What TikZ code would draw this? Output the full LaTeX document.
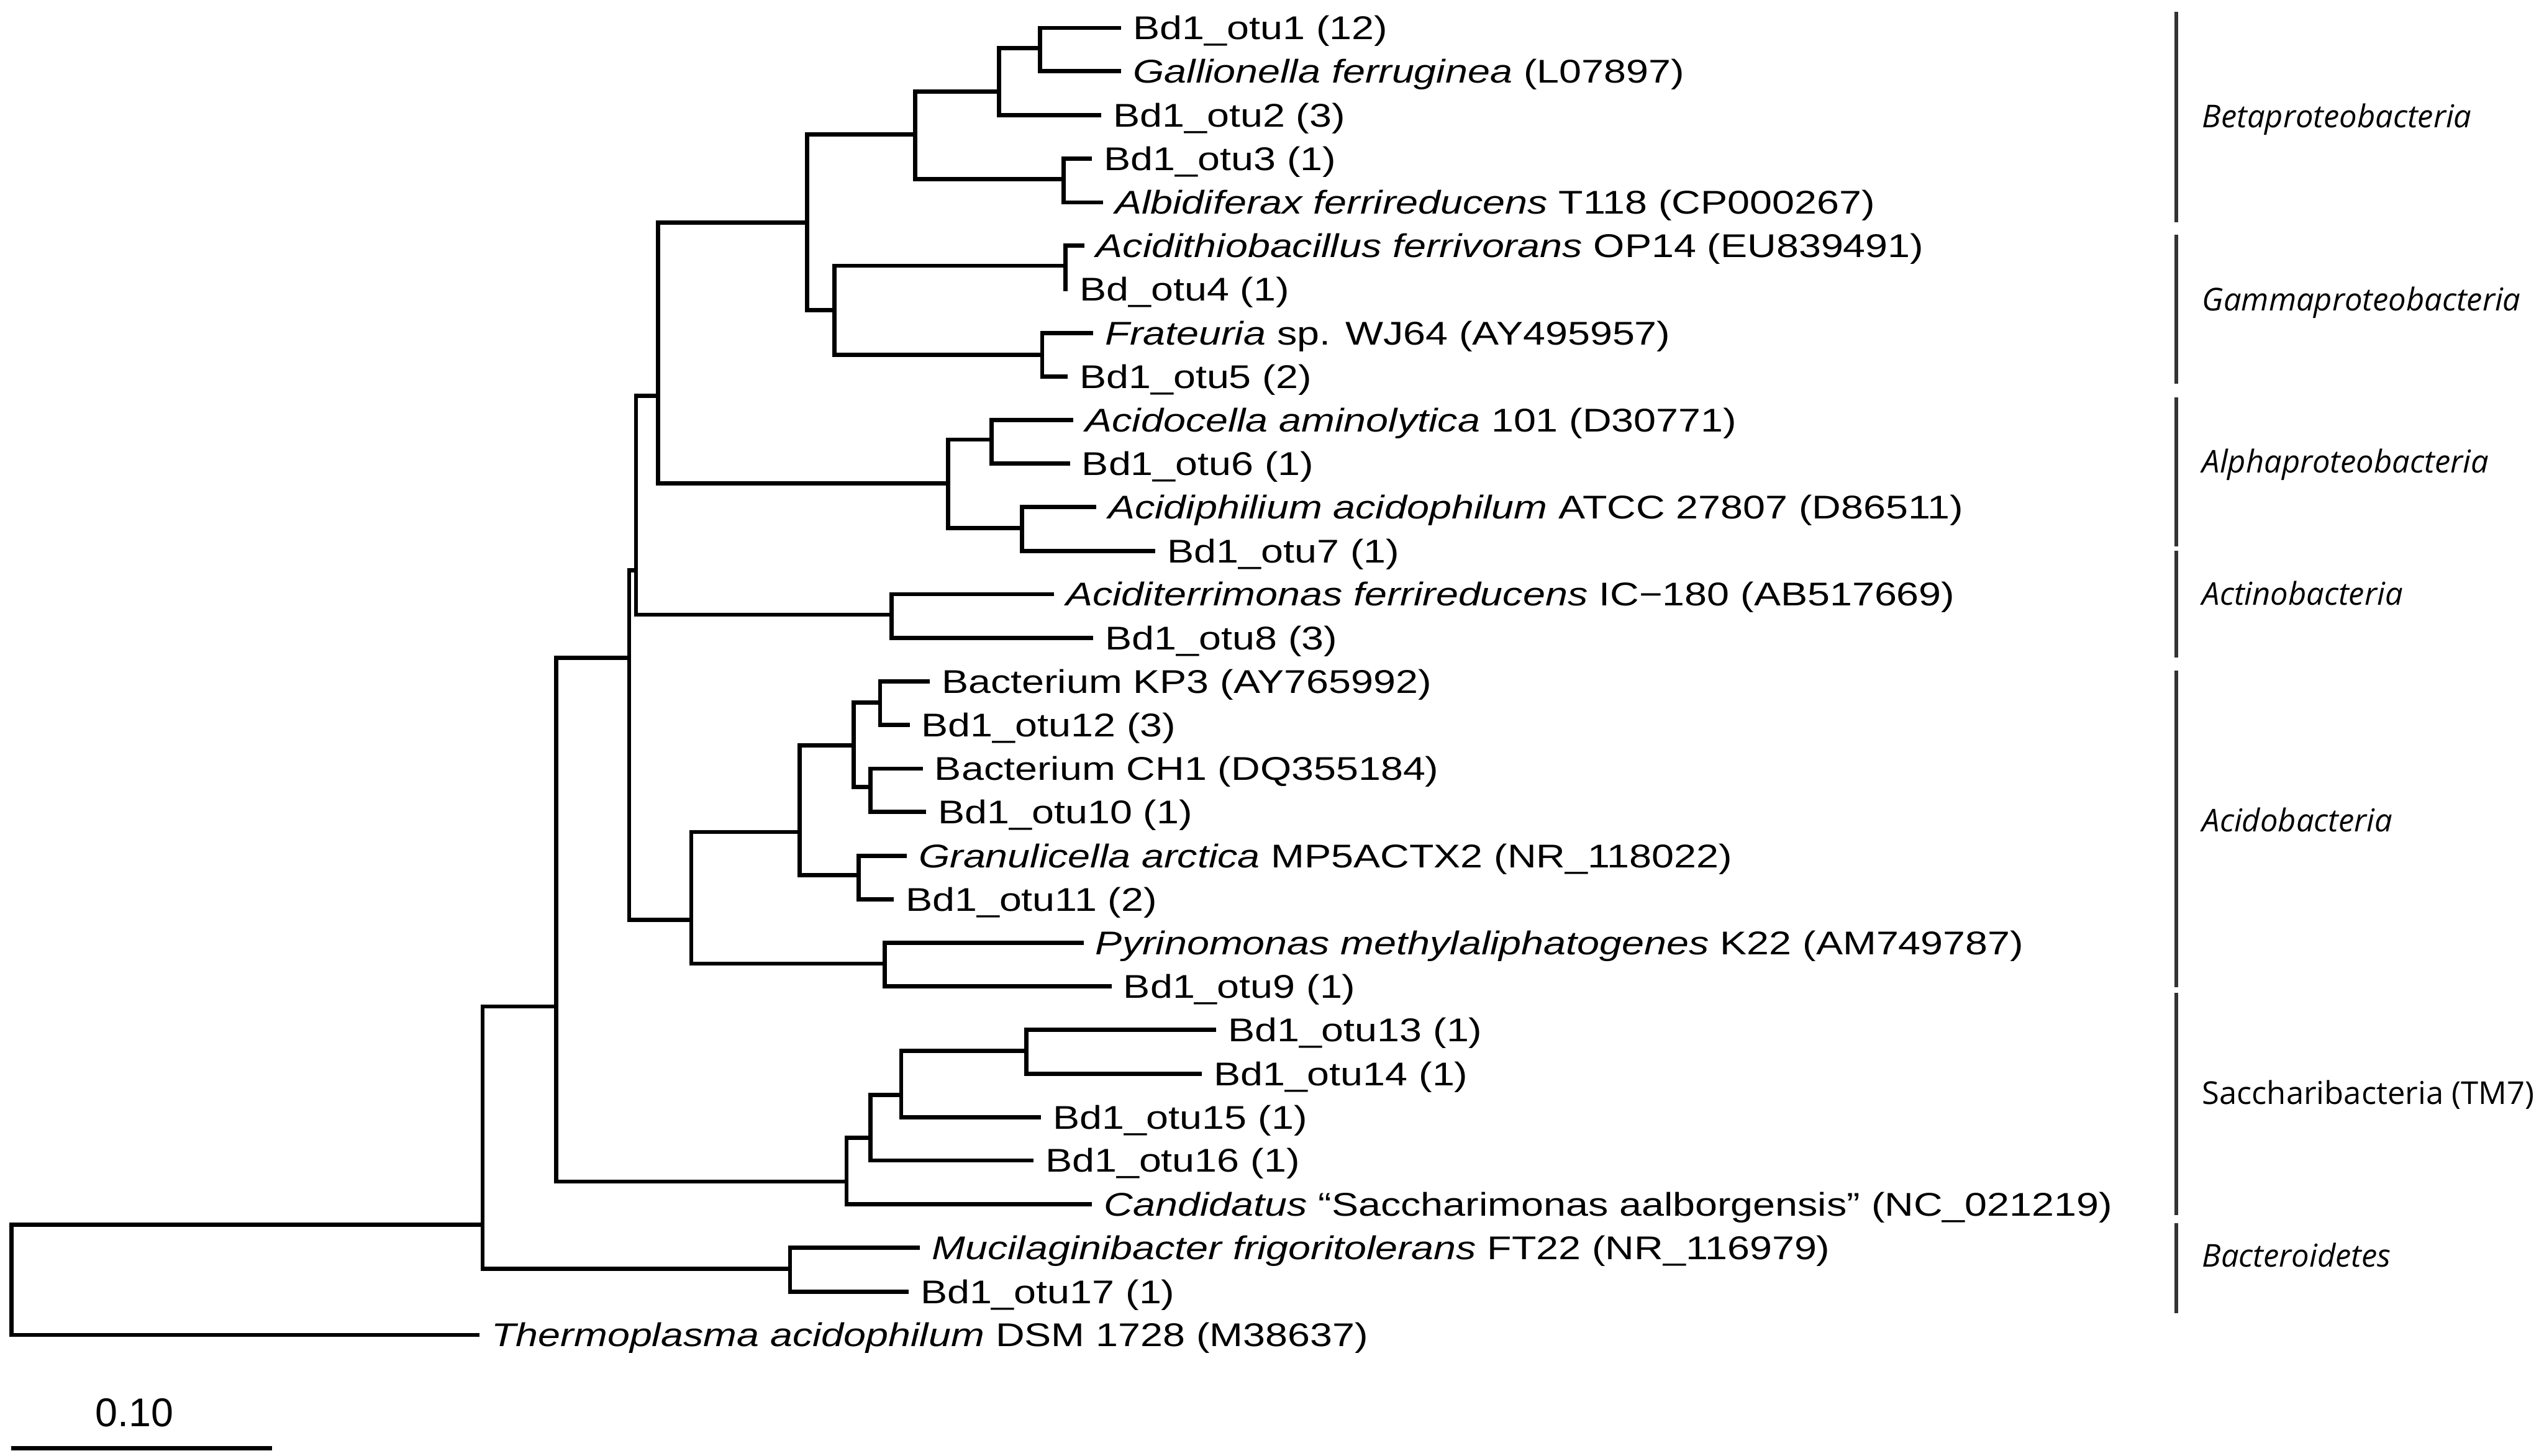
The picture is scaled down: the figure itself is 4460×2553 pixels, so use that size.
\documentclass[tikz,border=0pt]{standalone}
\usepackage{fontspec}
\setmainfont[FakeStretch=1.22]{Liberation Sans}
\newfontfamily\barfont{Liberation Sans}
\newfontfamily\cladefont{Open Sans}
\usetikzlibrary{positioning}
\tikzstyle{branch}=[line width=2.1pt, line cap=rect]
\tikzstyle{leaf}=[anchor=west, inner xsep=0.24cm, inner ysep=0pt, text height=11.7pt, text depth=0pt, font=\fontsize{16.4}{18}\selectfont]
\tikzstyle{clade}=[anchor=base west, inner sep=0pt, font=\cladefont\fontsize{15.7}{18}\selectfont\itshape]
\tikzstyle{cbar}=[line width=1.9pt, black!80]

\begin{document}
\begin{tikzpicture}[x=0.01cm, y=-0.01cm]
\useasboundingbox (0,0) rectangle (4460,2553);
% leaves
\node[leaf] (l1) at (1962,49) {Bd1\_otu1 (12)};
\node[leaf] (l2) at (1962,125) {\textit{Gallionella ferruginea} (L07897)};
\node[leaf] (l3) at (1927,202) {Bd1\_otu2 (3)};
\node[leaf] (l4) at (1911,278) {Bd1\_otu3 (1)};
\node[leaf] (l5) at (1930,355) {\textit{Albidiferax ferrireducens} T118 (CP000267)};
\node[leaf] (l6) at (1897,431) {\textit{Acidithiobacillus ferrivorans} OP14 (EU839491)};
\node[leaf] (l7) at (1868,507) {Bd\_otu4 (1)};
\node[leaf] (l8) at (1913,584) {\textit{Frateuria} sp. WJ64 (AY495957)};
\node[leaf] (l9) at (1868,660) {Bd1\_otu5 (2)};
\node[leaf] (l10) at (1878,737) {\textit{Acidocella aminolytica} 101 (D30771)};
\node[leaf] (l11) at (1872,813) {Bd1\_otu6 (1)};
\node[leaf] (l12) at (1918,889) {\textit{Acidiphilium acidophilum} ATCC 27807 (D86511)};
\node[leaf] (l13) at (2022,966) {Bd1\_otu7 (1)};
\node[leaf] (l14) at (1844,1042) {\textit{Aciditerrimonas ferrireducens} IC−180 (AB517669)};
\node[leaf] (l15) at (1913,1119) {Bd1\_otu8 (3)};
\node[leaf] (l16) at (1626,1195) {Bacterium KP3 (AY765992)};
\node[leaf] (l17) at (1591,1271) {Bd1\_otu12 (3)};
\node[leaf] (l18) at (1614,1348) {Bacterium CH1 (DQ355184)};
\node[leaf] (l19) at (1620,1424) {Bd1\_otu10 (1)};
\node[leaf] (l20) at (1586,1501) {\textit{Granulicella arctica} MP5ACTX2 (NR\_118022)};
\node[leaf] (l21) at (1563,1577) {Bd1\_otu11 (2)};
\node[leaf] (l22) at (1896,1653) {\textit{Pyrinomonas methylaliphatogenes} K22 (AM749787)};
\node[leaf] (l23) at (1945,1730) {Bd1\_otu9 (1)};
\node[leaf] (l24) at (2128,1806) {Bd1\_otu13 (1)};
\node[leaf] (l25) at (2103,1883) {Bd1\_otu14 (1)};
\node[leaf] (l26) at (1821,1959) {Bd1\_otu15 (1)};
\node[leaf] (l27) at (1808,2035) {Bd1\_otu16 (1)};
\node[leaf] (l28) at (1911,2112) {\textit{Candidatus} “Saccharimonas aalborgensis” (NC\_021219)};
\node[leaf] (l29) at (1609,2188) {\textit{Mucilaginibacter frigoritolerans} FT22 (NR\_116979)};
\node[leaf] (l30) at (1589,2265) {Bd1\_otu17 (1)};
\node[leaf] (l31) at (837,2341) {\textit{Thermoplasma acidophilum} DSM 1728 (M38637)};
% internal nodes
\coordinate (A) at (1823,84);
\coordinate (B) at (1751,161);
\coordinate (C) at (1865,314);
\coordinate (D) at (1604,236);
\coordinate (E) at (1868,466);
\coordinate (F) at (1827,622);
\coordinate (G) at (1463,544);
\coordinate (H) at (1415,390);
\coordinate (K) at (1738,771);
\coordinate (L) at (1792,926);
\coordinate (J) at (1662,848);
\coordinate (I) at (1154,694);
\coordinate (P) at (1563,1078);
\coordinate (M) at (1115,1000);
\coordinate (T) at (1543,1232);
\coordinate (U) at (1526,1380);
\coordinate (S) at (1497,1307);
\coordinate (V) at (1505,1535);
\coordinate (Q) at (1402,1459);
\coordinate (R) at (1551,1690);
\coordinate (O) at (1212,1613);
\coordinate (N) at (1103,1154);
\coordinate (AC) at (1799,1843);
\coordinate (AB) at (1580,1920);
\coordinate (AA) at (1526,1995);
\coordinate (Z) at (1484,2072);
\coordinate (W) at (975,1765);
\coordinate (Y) at (1385,2225);
\coordinate (X) at (846,2148);
\coordinate (root) at (20,2245);
% branches
\draw[branch] (A) |- (l1.west) (A) |- (l2.west);
\draw[branch] (B) |- (A) (B) |- (l3.west);
\draw[branch] (C) |- (l4.west) (C) |- (l5.west);
\draw[branch] (D) |- (B) (D) |- (C);
\draw[branch] (E) |- (l6.west) (E) |- (l7.west);
\draw[branch] (F) |- (l8.west) (F) |- (l9.west);
\draw[branch] (G) |- (E) (G) |- (F);
\draw[branch] (H) |- (D) (H) |- (G);
\draw[branch] (K) |- (l10.west) (K) |- (l11.west);
\draw[branch] (L) |- (l12.west) (L) |- (l13.west);
\draw[branch] (J) |- (K) (J) |- (L);
\draw[branch] (I) |- (H) (I) |- (J);
\draw[branch] (P) |- (l14.west) (P) |- (l15.west);
\draw[branch] (M) |- (I) (M) |- (P);
\draw[branch] (T) |- (l16.west) (T) |- (l17.west);
\draw[branch] (U) |- (l18.west) (U) |- (l19.west);
\draw[branch] (S) |- (T) (S) |- (U);
\draw[branch] (V) |- (l20.west) (V) |- (l21.west);
\draw[branch] (Q) |- (S) (Q) |- (V);
\draw[branch] (R) |- (l22.west) (R) |- (l23.west);
\draw[branch] (O) |- (Q) (O) |- (R);
\draw[branch] (N) |- (M) (N) |- (O);
\draw[branch] (AC) |- (l24.west) (AC) |- (l25.west);
\draw[branch] (AB) |- (AC) (AB) |- (l26.west);
\draw[branch] (AA) |- (AB) (AA) |- (l27.west);
\draw[branch] (Z) |- (AA) (Z) |- (l28.west);
\draw[branch] (W) |- (N) (W) |- (Z);
\draw[branch] (Y) |- (l29.west) (Y) |- (l30.west);
\draw[branch] (X) |- (W) (X) |- (Y);
\draw[branch] (root) |- (X) (root) |- (l31.west);
% clade bars and names
\draw[cbar] (3815,21) -- (3815,390);
\draw[cbar] (3815,412) -- (3815,673);
\draw[cbar] (3815,697) -- (3815,958);
\draw[cbar] (3815,966) -- (3815,1153);
\draw[cbar] (3815,1176) -- (3815,1731);
\draw[cbar] (3815,1741) -- (3815,2131);
\draw[cbar] (3815,2145) -- (3815,2303);
\node[clade] (beta) at (3860,224) {Betaproteobacteria};
\node[clade] (gamma) at (3860,545) {Gammaproteobacteria};
\node[clade] (alpha) at (3860,829) {Alphaproteobacteria};
\node[clade] (actino) at (3860,1061) {Actinobacteria};
\node[clade] (acido) at (3860,1459) {Acidobacteria};
\node[clade, font=\cladefont\fontsize{15.7}{18}\selectfont] (tm7) at (3860,1937) {Saccharibacteria (TM7)};
\node[clade] (bactero) at (3860,2222) {Bacteroidetes};
% scale bar
\coordinate (sb1) at (20,2540);
\coordinate (sb2) at (477,2540);
\draw[branch, line cap=butt] (sb1) -- (sb2);
\node[font=\barfont\fontsize{20}{22}\selectfont] (sbl) at (236,2477) {0.10};
\end{tikzpicture}
\end{document}
